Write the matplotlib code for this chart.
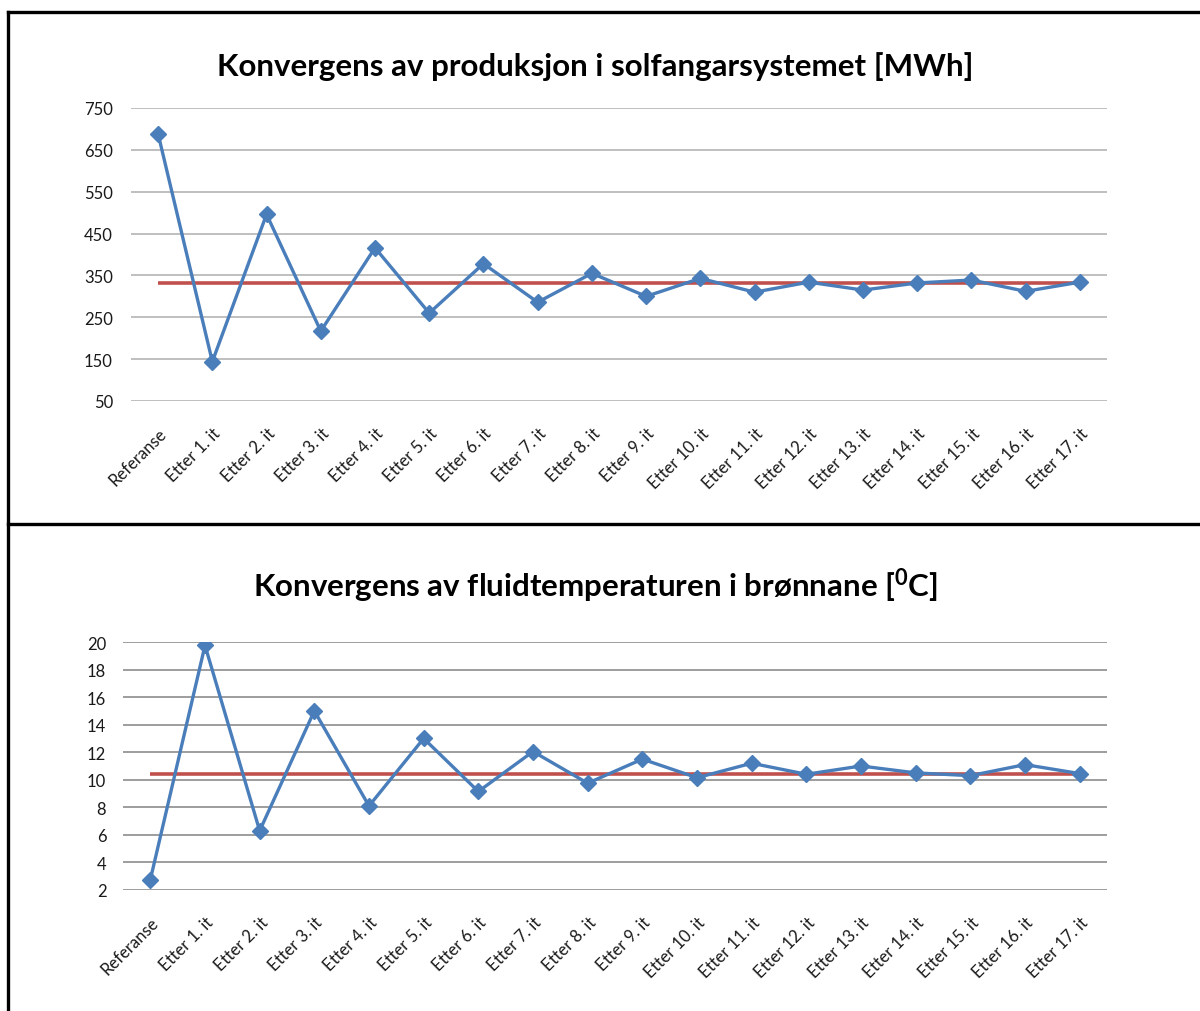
import matplotlib.pyplot as plt
from matplotlib.lines import Line2D

plt.rcParams['font.family'] = ['Lato', 'DejaVu Sans']

categories = ["Referanse"] + [f"Etter {i}. it" for i in range(1, 18)]

# solar collector production per iteration [MWh]
production = [688, 144, 496, 217, 416, 260, 378, 286, 355, 300,
              343, 310, 334, 315, 332, 339, 312, 334]
production_ref = 333

# fluid temperature in the boreholes per iteration [degC]
fluid_temp = [2.75, 19.75, 6.3, 15.0, 8.1, 13.0, 9.15, 12.05, 9.75, 11.5,
              10.15, 11.2, 10.4, 11.0, 10.5, 10.3, 11.1, 10.45]
fluid_temp_ref = 10.45

prod_ticks = [50, 150, 250, 350, 450, 550, 650, 750]
temp_ticks = [2, 4, 6, 8, 10, 12, 14, 16, 18, 20]

BLUE = "#4A7EBB"
RED = "#C0504D"

W, H = 1200, 1012
fig = plt.figure(figsize=(W / 100, H / 100), dpi=100)


def px_axes(left, top, right, bottom):
    return fig.add_axes([left / W, 1 - bottom / H, (right - left) / W, (bottom - top) / H])


def draw_panel(ax, values, ref, ticks, grid_color, title, title_y, ypad):
    x = range(len(categories))
    ax.plot(x, [ref] * len(categories), color=RED, lw=2.6, zorder=3, solid_capstyle="butt")
    ax.plot(x, values, color=BLUE, lw=2.4, marker="D", ms=8, mec=BLUE, mfc=BLUE, zorder=4)
    ax.set_xlim(-0.5, len(categories) - 0.5)
    ax.set_ylim(ticks[0], ticks[-1])
    ax.set_yticks(ticks)
    ax.set_yticklabels([str(t) for t in ticks], fontsize=12, color="#1a1a1a")
    ax.set_xticks(list(x))
    ax.set_xticklabels(categories, rotation=45, ha="right", va="top",
                       rotation_mode="anchor", fontsize=12, color="#1a1a1a")
    ax.tick_params(length=0, axis="y", pad=ypad)
    ax.tick_params(length=0, axis="x", pad=17)
    for s in ax.spines.values():
        s.set_visible(False)
    ax.yaxis.grid(True, color=grid_color, lw=1.2)
    ax.set_axisbelow(True)
    fig.text(0.496, 1 - title_y / H, title, ha="center", va="center",
             fontsize=22.5, fontweight="bold")


ax1 = px_axes(131, 109, 1107, 402)
draw_panel(ax1, production, production_ref, prod_ticks, "#B4B4B4",
           "Konvergens av produksjon i solfangarsystemet [MWh]", 67, 13)

ax2 = px_axes(123, 643, 1107, 891)
draw_panel(ax2, fluid_temp, fluid_temp_ref, temp_ticks, "#8C8C8C",
           "Konvergens av fluidtemperaturen i brønnane [$\\mathregular{^0}$C]", 586, 12)

# frame lines around the two chart boxes
for xs, ys in [([8, 8], [13, H]), ([8, W], [13, 13]), ([8, W], [525, 525])]:
    fig.add_artist(Line2D([v / W for v in xs], [1 - v / H for v in ys],
                          color="black", lw=2.4, transform=fig.transFigure))

fig.savefig("out.png", dpi=100, facecolor="white")
